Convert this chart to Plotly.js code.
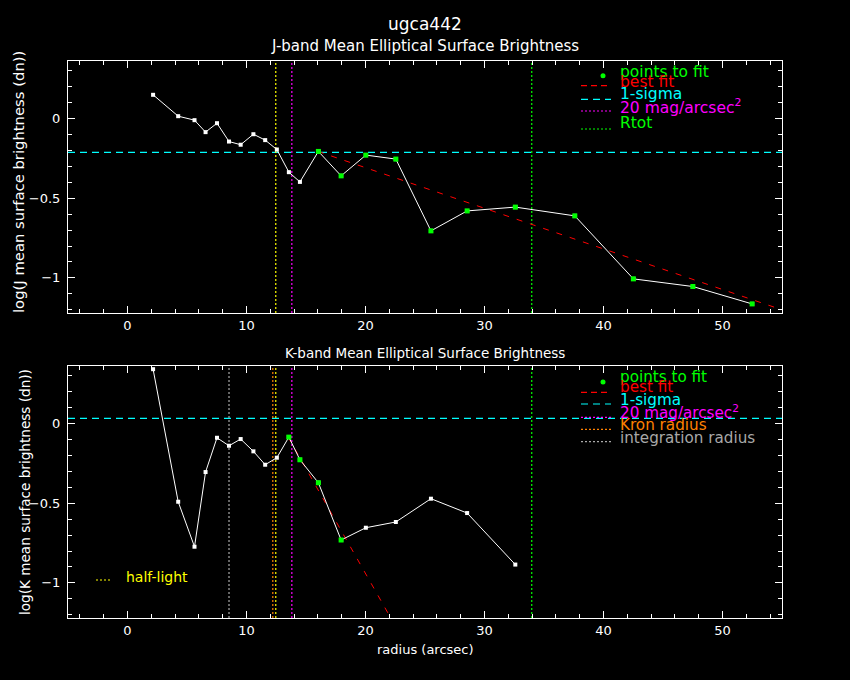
<!DOCTYPE html>
<html>
<head>
<meta charset="utf-8">
<script src="https://cdn.plot.ly/plotly-3.0.1.min.js"></script>
<style>
  html, body { margin: 0; padding: 0; background: #000; }
  #myDiv { width: 850px; height: 680px; }
</style>
</head>
<body>
<div id="myDiv"></div>
<script>
// radii of the elliptical annuli (arcsec)
var radius = [2.15, 4.26, 5.63, 6.56, 7.52, 8.53, 9.51, 10.58, 11.57, 12.55, 13.56, 14.49,
              16.04, 17.95, 20.03, 22.55, 25.5, 28.54, 32.59, 37.59, 42.51, 47.51, 52.49];

// J band
var jSB = [0.148, 0.014, -0.011, -0.086, -0.030, -0.145, -0.165, -0.099, -0.136, -0.195, -0.337, -0.398,
           -0.207, -0.360, -0.230, -0.255, -0.705, -0.580, -0.556, -0.611, -1.006, -1.054, -1.163];
var jFitFirst = 12, jFitLast = 22;
var jBestFitX = [16.0, 55.0];
var jBestFitY = [-0.207, -1.200];
var jSigma = -0.213;
var jHalfLight = 12.46;
var j20mag = 13.81;
var jRtot = 33.97;

// K band
var kRadius = radius.slice(0, 19);
var kSB = [0.340, -0.491, -0.773, -0.305, -0.090, -0.140, -0.098, -0.175, -0.259, -0.215,
           -0.086, -0.228, -0.372, -0.731, -0.654, -0.618, -0.472, -0.562, -0.885];
var kFitFirst = 10, kFitLast = 13;
var kBestFitX = [13.5, 22.13];
var kBestFitY = [-0.086, -1.221];
var kSigma = 0.031;
var kIntegration = 8.53;
var kKron = 12.21;
var kHalfLight = 12.46;
var k20mag = 13.81;
var kRtot = 33.97;

var FONT = 'DejaVu Sans';
var W = 850, H = 680;
function px(x) { return x / W; }
function py(y) { return 1 - y / H; }

var GREEN = '#00ff00', RED = '#ff0000', CYAN = '#00ffff', MAGENTA = '#ff00ff',
    YELLOW = '#ffff00', ORANGE = '#ff8000', GREY = '#a8a8a8';

function profile(x, y, xa, ya) {
  return {x: x, y: y, xaxis: xa, yaxis: ya, type: 'scatter', mode: 'lines+markers',
          line: {color: 'white', width: 1},
          marker: {color: 'white', size: 4, symbol: 'square'}, hoverinfo: 'skip'};
}
function fitPoints(x, y, xa, ya) {
  return {x: x, y: y, xaxis: xa, yaxis: ya, type: 'scatter', mode: 'markers',
          marker: {color: GREEN, size: 5, symbol: 'square'}, hoverinfo: 'skip'};
}
function fitLine(x, y, xa, ya) {
  return {x: x, y: y, xaxis: xa, yaxis: ya, type: 'scatter', mode: 'lines',
          line: {color: RED, width: 1, dash: '6px,8px'}, hoverinfo: 'skip'};
}

var data = [
  fitLine(jBestFitX, jBestFitY, 'x', 'y'),
  profile(radius, jSB, 'x', 'y'),
  fitPoints(radius.slice(jFitFirst, jFitLast + 1), jSB.slice(jFitFirst, jFitLast + 1), 'x', 'y'),
  fitLine(kBestFitX, kBestFitY, 'x2', 'y2'),
  profile(kRadius, kSB, 'x2', 'y2'),
  fitPoints(kRadius.slice(kFitFirst, kFitLast + 1), kSB.slice(kFitFirst, kFitLast + 1), 'x2', 'y2')
];

function vline(x, xa, ya, color) {
  return {type: 'line', xref: xa, yref: ya + ' domain', x0: x, x1: x, y0: 0, y1: 1,
          line: {color: color, width: 1.2, dash: '2px,2px'}, layer: 'below'};
}
function hline(y, xa, ya) {
  return {type: 'line', xref: xa + ' domain', yref: ya, x0: 0, x1: 1, y0: y, y1: y,
          line: {color: CYAN, width: 1.2, dash: '7px,5px'}, layer: 'below'};
}
function keyLine(x0, x1, y, color, dash) {
  return {type: 'line', xref: 'paper', yref: 'paper', x0: px(x0), x1: px(x1), y0: py(y), y1: py(y),
          line: {color: color, width: 1.2, dash: dash}};
}
function keyDot(x, y) {
  return {type: 'circle', xref: 'paper', yref: 'paper', xsizemode: 'pixel', ysizemode: 'pixel',
          xanchor: px(x), yanchor: py(y), x0: -2.5, x1: 2.5, y0: -2.5, y1: 2.5,
          fillcolor: GREEN, line: {width: 0}};
}
function label(text, x, y, color, size, xanchor, angle) {
  return {text: text, xref: 'paper', yref: 'paper', x: px(x), y: py(y), showarrow: false,
          xanchor: xanchor || 'center', yanchor: 'middle', textangle: angle || 0,
          font: {family: FONT, size: size, color: color}};
}

var shapes = [
  hline(jSigma, 'x', 'y'),
  vline(jHalfLight, 'x', 'y', YELLOW),
  vline(j20mag, 'x', 'y', MAGENTA),
  vline(jRtot, 'x', 'y', GREEN),
  hline(kSigma, 'x2', 'y2'),
  vline(kIntegration, 'x2', 'y2', GREY),
  vline(kKron, 'x2', 'y2', ORANGE),
  vline(kHalfLight, 'x2', 'y2', YELLOW),
  vline(k20mag, 'x2', 'y2', MAGENTA),
  vline(kRtot, 'x2', 'y2', GREEN),
  // top key
  keyDot(603, 75.7),
  keyLine(581, 611, 85.7, RED, '6px,4px'),
  keyLine(581, 611, 99.3, CYAN, '7px,5px'),
  keyLine(581, 611, 111, MAGENTA, '2px,2px'),
  keyLine(581, 611, 129, GREEN, '2px,2px'),
  // bottom key
  keyDot(603, 382),
  keyLine(581, 611, 392.3, RED, '6px,4px'),
  keyLine(581, 611, 404, CYAN, '7px,5px'),
  keyLine(581, 611, 417.3, MAGENTA, '2px,2px'),
  keyLine(581, 611, 429.3, ORANGE, '2px,2px'),
  keyLine(581, 611, 441.7, GREY, '2px,2px'),
  keyLine(96, 112, 580, YELLOW, '2px,2px')
];

var annotations = [
  label('ugca442', 425, 24, 'white', 17),
  label('J-band Mean Elliptical Surface Brightness', 425, 45.7, 'white', 15),
  label('K-band Mean Elliptical Surface Brightness', 425, 353, 'white', 13.5),
  label('radius (arcsec)', 425, 649, 'white', 13),
  label('log(J mean surface brightness (dn))', 19, 182, 'white', 14.8, 'center', -90),
  label('log(K mean surface brightness (dn))', 25, 492, 'white', 13.6, 'center', -90),
  label('points to fit', 618, 72, GREEN, 15.5, 'left'),
  label('best fit', 618, 81.7, RED, 15.5, 'left'),
  label('1-sigma', 618, 94.3, CYAN, 15.5, 'left'),
  label('20 mag/arcsec<sup>2</sup>', 618, 106.7, MAGENTA, 15.5, 'left'),
  label('Rtot', 618, 123.3, GREEN, 15.5, 'left'),
  label('points to fit', 618, 377.3, GREEN, 15.2, 'left'),
  label('best fit', 618, 386.7, RED, 15.2, 'left'),
  label('1-sigma', 618, 400, CYAN, 15.2, 'left'),
  label('20 mag/arcsec<sup>2</sup>', 618, 412.3, MAGENTA, 15.2, 'left'),
  label('Kron radius', 618, 425, ORANGE, 15.2, 'left'),
  label('integration radius', 618, 438.3, GREY, 15.2, 'left'),
  label('half-light', 124, 576.7, YELLOW, 14, 'left')
];

function xAxis(anchor) {
  return {domain: [px(68), px(782)], range: [-5, 55], anchor: anchor,
          showline: true, linecolor: 'white', linewidth: 1, mirror: 'allticks',
          ticks: 'inside', ticklen: 7, tickwidth: 1, tickcolor: 'white',
          tick0: 0, dtick: 10, showgrid: false, zeroline: false,
          minor: {dtick: 2, ticks: 'inside', ticklen: 4, tickcolor: 'white', showgrid: false},
          tickfont: {family: FONT, size: 13, color: 'white'}, automargin: false};
}
function yAxis(anchor, top, bottom) {
  return {domain: [py(bottom), py(top)], range: [-1.22, 0.36], anchor: anchor,
          showline: true, linecolor: 'white', linewidth: 1, mirror: 'allticks',
          ticks: 'inside', ticklen: 7, tickwidth: 1, tickcolor: 'white',
          tick0: 0, dtick: 0.5, showgrid: false, zeroline: false,
          minor: {dtick: 0.1, ticks: 'inside', ticklen: 4, tickcolor: 'white', showgrid: false},
          ticklabelstandoff: 4,
          tickfont: {family: FONT, size: 13, color: 'white'}, automargin: false};
}

var layout = {
  width: W, height: H,
  margin: {l: 0, r: 0, t: 0, b: 0},
  paper_bgcolor: '#000', plot_bgcolor: '#000',
  showlegend: false,
  font: {family: FONT, color: 'white'},
  xaxis: xAxis('y'),
  yaxis: yAxis('x', 61, 313),
  xaxis2: xAxis('y2'),
  yaxis2: yAxis('x2', 366, 618),
  shapes: shapes,
  annotations: annotations
};

Plotly.newPlot('myDiv', data, layout, {staticPlot: true, displayModeBar: false});
</script>
</body>
</html>
